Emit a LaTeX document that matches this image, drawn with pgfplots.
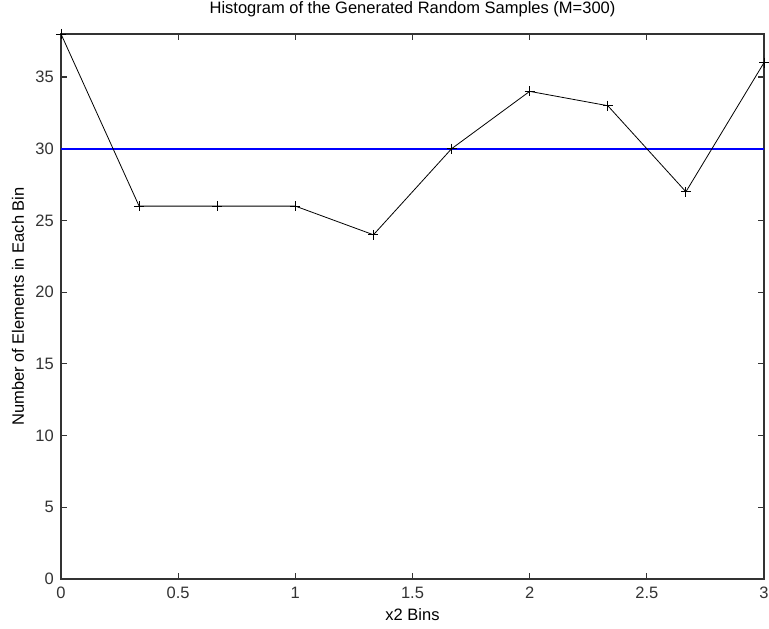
\documentclass[border=0pt]{standalone}
\usepackage{fontspec}
\setmainfont{Liberation Sans}
\usepackage{pgfplots}
\pgfplotsset{compat=1.18}
\definecolor{axgray}{HTML}{333333}
\definecolor{mblue}{HTML}{0000FF}
\newcommand{\lblfont}{\fontsize{16.5}{19}\selectfont}

\begin{document}
\begin{tikzpicture}
\begin{axis}[
    name=main,
    scale only axis,
    width=703pt, height=545pt,
    xmin=0, xmax=3, ymin=0, ymax=38,
    xtick={0,0.5,1,1.5,2,2.5,3},
    ytick={0,5,10,15,20,25,30,35},
    tick align=inside,
    major tick length=6pt,
    axis line style={axgray, line width=1.2pt},
    tick style={axgray, line width=1.2pt},
    /pgf/number format/assume math mode=true,
    tick label style={font=\lblfont, inner sep=0pt, text=axgray},
    yticklabel shift=7pt,
    xticklabel shift=8pt,
    title={Histogram of the Generated Random Samples (M=300)},
    title style={font=\lblfont, at={(axis description cs:0.5,1.0349)}, anchor=center},
    xlabel={x2 Bins},
    xlabel style={font=\lblfont, at={(axis description cs:0.5,-0.066)}, anchor=center},
    ylabel={Number of Elements in Each Bin},
    ylabel style={font=\lblfont, at={(axis description cs:-0.0612,0.5)}, anchor=center},
    clip=false,
]
% equal-count reference line
\addplot[mblue, line width=2.2pt] coordinates {(0,30) (3,30)};
% bin counts
\addplot[black, line width=0.8pt, mark=+, mark size=5pt,
         mark options={line width=0.9pt}] coordinates {
    (0,38) (0.3333,26) (0.6667,26) (1,26) (1.3333,24)
    (1.6667,30) (2,34) (2.3333,33) (2.6667,27) (3,36)
};
\end{axis}
\pgfresetboundingbox
\path ([xshift=-61pt,yshift=-49pt]main.south west) rectangle ([xshift=5pt,yshift=34pt]main.north east);
\end{tikzpicture}
\end{document}
